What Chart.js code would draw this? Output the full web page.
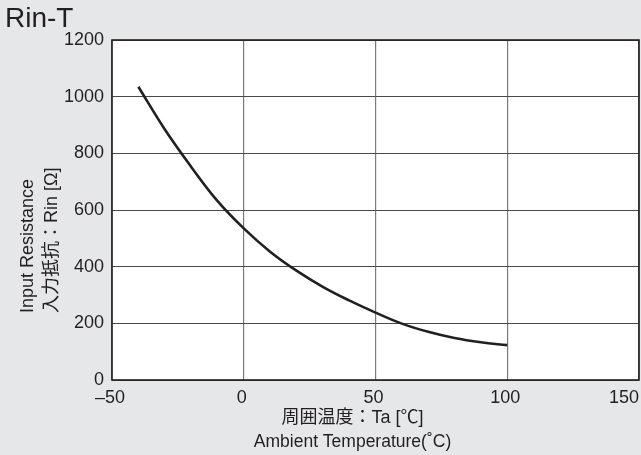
<!DOCTYPE html>
<html>
<head>
<meta charset="utf-8">
<script src="https://cdn.jsdelivr.net/npm/chart.js@4.4.0/dist/chart.umd.min.js"></script>
<style>
  html, body { margin: 0; padding: 0; background: #e6e7e8; }
  #wrap { width: 641px; height: 455px; }
</style>
</head>
<body>
<div id="wrap"><canvas id="chart"></canvas></div>
<script>
// 入力抵抗 vs 周囲温度
const temps = [-40, -30, -20, -10, 0, 10, 20, 30, 40, 50, 60, 70, 80, 90, 100];
const rinValues = [1035, 885, 753, 632, 535, 453, 386, 329, 281, 238, 199, 170, 148, 133, 123];

const xTickValues = [-50, 0, 50, 100, 150];
const yTickValues = [0, 200, 400, 600, 800, 1000, 1200];

const chartTitle = 'Rin-T';
const yTitleLines = ['Input Resistance', '入力抵抗：Rin [Ω]'];
const xTitleLines = ['周囲温度：Ta [℃]', 'Ambient Temperature(˚C)'];

const FONT = '"Liberation Sans", Arial, "Noto Sans CJK JP", sans-serif';
const TEXT = '#231f20';

const fmtTick = (v) => (v < 0 ? '–' + Math.abs(v) : String(v));

const decor = {
  id: 'decor',
  beforeDraw(chart) {
    const { ctx, chartArea: a } = chart;
    ctx.save();
    ctx.fillStyle = '#e6e7e8';
    ctx.fillRect(0, 0, chart.width, chart.height);
    ctx.fillStyle = '#ffffff';
    ctx.fillRect(a.left, a.top, a.right - a.left, a.bottom - a.top);
    ctx.restore();
  },
  afterDraw(chart) {
    const { ctx, chartArea: a } = chart;
    const xs = chart.scales.x;
    ctx.save();
    // 枠
    ctx.strokeStyle = '#231f20';
    ctx.lineWidth = 1.6;
    ctx.strokeRect(a.left, a.top, a.right - a.left, a.bottom - a.top);

    ctx.fillStyle = TEXT;
    // タイトル
    ctx.font = '28px ' + FONT;
    ctx.textAlign = 'left';
    ctx.textBaseline = 'alphabetic';
    ctx.fillText(chartTitle, 5, 27);

    // x 目盛ラベル
    ctx.font = '18px ' + FONT;
    ctx.textBaseline = 'top';
    xs.ticks.forEach((t, i) => {
      const px = xs.getPixelForValue(t.value);
      const last = i === xs.ticks.length - 1;
      ctx.textAlign = last ? 'right' : 'center';
      ctx.fillText(fmtTick(t.value), last ? a.right : px - 2, a.bottom + 9);
    });

    // x 軸タイトル
    ctx.textAlign = 'center';
    ctx.textBaseline = 'alphabetic';
    const cx = (a.left + a.right) / 2 - 23;
    ctx.fillText(xTitleLines[0], cx, a.bottom + 43);
    ctx.font = '17.5px ' + FONT;
    ctx.fillText(xTitleLines[1], cx, a.bottom + 67);

    // y 軸タイトル（縦書き回転）
    ctx.font = '18px ' + FONT;
    ctx.textAlign = 'left';
    const startY = 313;
    [33, 57].forEach((bx, i) => {
      ctx.save();
      ctx.translate(bx, startY);
      ctx.rotate(-Math.PI / 2);
      ctx.fillText(yTitleLines[i], 0, 0);
      ctx.restore();
    });
    ctx.restore();
  },
};

new Chart(document.getElementById('chart'), {
  type: 'line',
  data: {
    datasets: [{
      data: temps.map((t, i) => ({ x: t, y: rinValues[i] })),
      borderColor: '#231f20',
      borderWidth: 2.6,
      pointRadius: 0,
      fill: false,
      tension: 0.4,
      parsing: false,
    }],
  },
  options: {
    responsive: true,
    maintainAspectRatio: false,
    animation: false,
    devicePixelRatio: 1,
    layout: { padding: { top: 40, right: 2, left: 0, bottom: 0 } },
    plugins: {
      legend: { display: false },
      tooltip: { enabled: false },
    },
    scales: {
      x: {
        type: 'linear',
        min: -50,
        max: 150,
        afterBuildTicks: (s) => { s.ticks = xTickValues.map(v => ({ value: v })); },
        ticks: { display: false },
        grid: { color: '#7a7a7a', lineWidth: 1.2, drawTicks: false },
        border: { display: false },
        afterFit: (s) => { s.height = 75; s.paddingLeft = 0; s.paddingRight = 0; },
      },
      y: {
        type: 'linear',
        min: 0,
        max: 1200,
        afterBuildTicks: (s) => { s.ticks = yTickValues.map(v => ({ value: v })); },
        ticks: {
          color: TEXT,
          padding: 8,
          font: { family: FONT, size: 18 },
          callback: (v) => fmtTick(v),
        },
        grid: { color: '#4a4a4a', lineWidth: 1, drawTicks: false },
        border: { display: false },
        afterFit: (s) => { s.width = 112; },
      },
    },
  },
  plugins: [decor],
});
</script>
</body>
</html>
